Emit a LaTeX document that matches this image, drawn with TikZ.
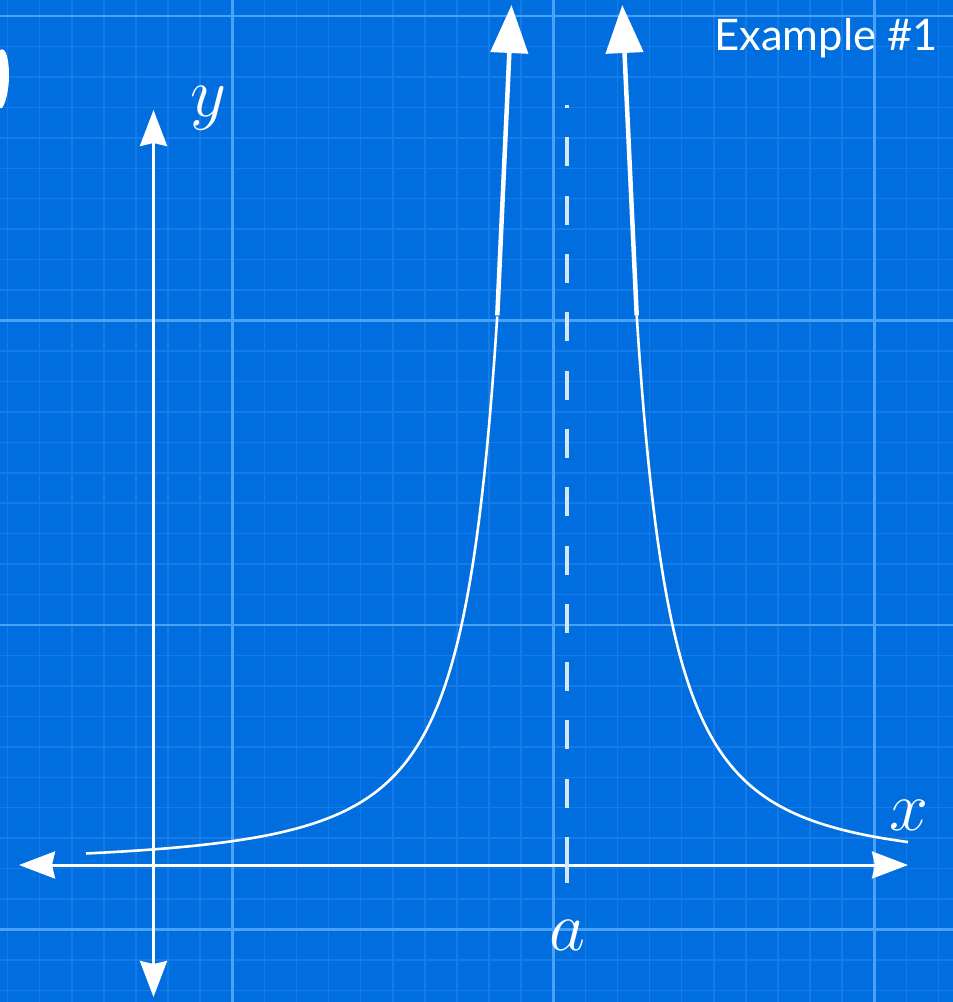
\RequirePackage{fix-cm}
\documentclass[tikz,border=0pt]{standalone}
\usepackage{fontspec}
\newfontfamily\exfont{Lato}
\usetikzlibrary{arrows.meta}
\definecolor{bgblue}{RGB}{0,110,222}
\definecolor{gridminor}{RGB}{22,123,230}
\definecolor{gridmajor}{RGB}{72,162,248}
\definecolor{dashwhite}{RGB}{215,230,248}
\tikzset{
  axistip/.tip={Stealth[length=36pt,width=27pt,inset=3pt]},
  uptip/.tip={Triangle[length=48pt,width=37pt]}
}
\begin{document}
\begin{tikzpicture}[x=1pt,y=-1pt,
  minorgrid/.style={draw=gridminor, line width=1.5pt},
  majorgrid/.style={draw=gridmajor, line width=2.4pt},
  axisline/.style={draw=white, line width=3pt},
  curveline/.style={draw=white, line width=2.6pt},
  thickline/.style={draw=white, line width=4.5pt},
  dashline/.style={draw=dashwhite, line width=3.5pt, dash pattern=on 29pt off 29.3pt},
  mathlbl/.style={text=white, inner sep=0pt, font=\fontsize{70}{70}\selectfont}
]
\fill[bgblue] (0,0) rectangle (953,1002);
\useasboundingbox (0,0) rectangle (953,1002);
% grid
\foreach \k in {-17,...,12} \draw[minorgrid] ({553.3+32.1*\k},0) -- ({553.3+32.1*\k},1002);
\foreach \k in {0,...,32} \draw[minorgrid] (0,{16+30.45*\k}) -- (953,{16+30.45*\k});
\foreach \k in {-1,0,1} \draw[majorgrid] ({553.3+321*\k},0) -- ({553.3+321*\k},1002);
\foreach \k in {0,...,3} \draw[majorgrid] (0,{16+304.5*\k}) -- (953,{16+304.5*\k});
% blob at top left
\fill[white] (0,50) .. controls (6,46) and (9,60) .. (9,75) .. controls (9,92) and (5,104) .. (2,108) -- (0,108) -- cycle;
% axes
\coordinate (xl) at (19,865);
\coordinate (xr) at (908,865);
\coordinate (yt) at (153.5,110);
\coordinate (yb) at (153.5,997);
\draw[axisline, axistip-axistip] (xl) -- (xr);
\draw[axisline, axistip-axistip] (yb) -- (yt);
% asymptote
\coordinate (dbot) at (567,866);
\coordinate (dtop) at (567,105);
\coordinate (tickt) at (567,837);
\coordinate (tickb) at (567,883);
\draw[dashline] (dbot) -- (dtop);
\draw[draw=dashwhite, line width=3.5pt] (tickt) -- (tickb);
% curve
\draw[curveline] plot[domain=4.81:0.697, samples=160, variable=\u] ({567-100*\u},{865-267/(\u*\u)});
\draw[curveline] plot[domain=0.697:3.41, samples=160, variable=\u] ({567+100*\u},{865-267/(\u*\u)});
\coordinate (lbase) at (497.3,315.4);
\coordinate (ltip) at (511.5,5);
\coordinate (rbase) at (636.7,315.4);
\coordinate (rtip) at (622.3,5);
\draw[thickline, -uptip] (lbase) -- (ltip);
\draw[thickline, -uptip] (rbase) -- (rtip);
% labels
\node[mathlbl, anchor=base] (ylab) at (208,116) {$y$};
\node[mathlbl, anchor=base] (xlab) at (909,830) {$x$};
\node[mathlbl, anchor=base] (alab) at (567,950) {$a$};
\node[anchor=base east, inner sep=0pt, text=white, font=\exfont\fontsize{43.5}{43.5}\selectfont] (ttl) at (938,50) {Example \#1};
\end{tikzpicture}
\end{document}
